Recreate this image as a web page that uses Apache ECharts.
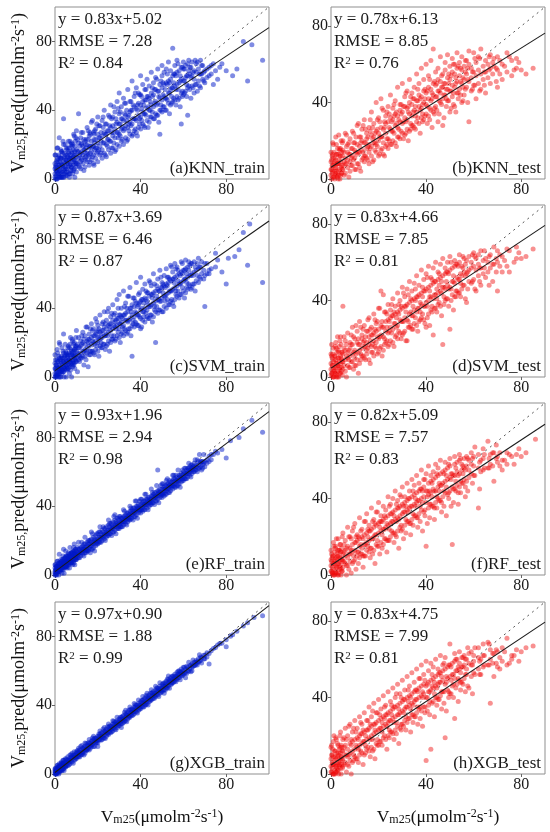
<!DOCTYPE html>
<html>
<head>
<meta charset="utf-8">
<script src="https://cdn.jsdelivr.net/npm/echarts@6/dist/echarts.min.js"></script>
<style>
    html, body { margin: 0; padding: 0; background: #fff; }
    #main { width: 550px; height: 832px; }
</style>
</head>
<body>
<div id="main"></div>
<script>
    // each row: measured Vm25 (x), then the predicted values seen at that x
    var knnTrain = [[0,1,3,6,9,14],[0.5,2,5,8],[1,0,4,7,11,18],[1.5,3,6,10],[2,2,5,8,13,24],[2.5,1,7,12],[3,1,4,9,12,16],[3.5,4,8,15],[4,3,6,10,20,35],[4.5,5,9,13],[5,2,7,11,14],[5.5,6,10,17],[6,4,9,13,18],[6.5,3,11,15],[7,3,8,12,22],[7.5,7,12,20],[8,5,10,15,19],[8.5,8,13,17],[9,6,11,14,25],[9.5,9,14,22],[10,4,9,13,17,28],[11,8,12,16,21,38],[12,6,10,15,24],[12.5,11,16,20],[13,9,14,19,27],[14,7,12,17,22],[14.5,13,18,23],[15,10,15,20,30],[16,8,13,18,25],[16.5,15,19,26],[17,11,16,22,33],[18,9,14,19,27],[18.5,17,21,28],[19,12,18,23,29],[20,10,16,21,26,36],[21,14,19,24,31],[22,12,17,25,34],[23,15,21,27,40],[24,13,20,26,32],[25,17,23,28,37],[26,15,22,30,43],[27,18,25,31,36],[28,16,24,29,39],[29,20,27,33,45],[30,19,26,32,38,50],[31,22,29,35,42],[32,20,28,34,47],[33,24,31,37,44],[34,23,30,36,52],[35,26,33,39,45],[36,25,32,40,57],[37,28,35,42,48],[38,27,34,41,53],[39,30,37,44,50],[40,29,36,43,49,60],[41,32,39,45,55],[42,30,38,46,52],[43,34,41,48,58],[44,33,40,47,54],[45,36,43,50,62],[46,35,42,49,56],[47,38,45,52,59],[48,37,44,51,64],[49,26,40,47,55],[50,39,46,53,60,66],[51,42,48,55,62],[52,40,47,56,64],[53,44,50,57,68],[54,43,52,58,63],[55,45,53,60,76],[56,46,54,61,66],[57,48,55,62,69],[58,47,56,63],[59,32,50,58,65],[60,49,57,64,68],[61,51,59,66],[62,37,53,60,67],[63,52,61,65],[64,54,60,68],[65,50,58,63],[66,55,62,67],[67,57,64],[68,53,61,69],[69,58,66],[70,56,63],[72,60,65],[74,55,67],[77,65],[80,63],[83,60],[88,80],[90,57],[92,78],[97,69],
        [0.25,7,0,14],[0.75,5,10,0],[1.25,18,3,12],[1.75,1,8,14],[2.25,1,10,5],[2.75,17,3,12],[3.25,1,16,8],[3.75,1,22,7],[4.25,12,1,15],[4.75,6,20,3],[5.25,11,4,18],[5.75,9,14,2],[6.25,22,7,16],[6.75,1,12,18],[7.25,5,14,9],[7.75,21,7,16],[8.25,3,20,12],[8.75,5,26,11],[9.25,16,1,19],[9.75,10,24,7],[10.5,16,9,23],[11.5,14,19,7],[12.25,27,12,21],[13.5,5,17,23],[14.25,11,20,15],[15.5,28,14,23],[16.25,10,27,19],[17.5,13,34,19],[18.25,23,8,26],[19.5,18,32,15],[20.5,24,17,31],[21.5,22,27,15],[22.5,36,21,30],[23.5,14,26,32],[24.5,19,28,23],[25.5,36,22,31],[26.5,18,35,27],[27.5,21,42,27],[28.5,32,17,35],[29.5,27,41,24],[30.5,32,25,39],[31.5,30,35,23],[32.5,44,29,38],[33.5,22,34,40],[34.5,28,37,32],[35.5,45,31,40],[36.5,26,43,35],[37.5,29,50,35],[38.5,40,25,43],[39.5,35,49,32],[40.5,41,34,48],[41.5,38,43,31],[42.5,52,37,46],[43.5,30,42,48],[44.5,36,45,40],[45.5,53,39,48],[46.5,35,52,44],[47.5,37,58,43],[48.5,48,33,51],[49.5,43,57,40],[50.5,49,42,56],[51.5,47,52,40],[52.5,61,46,55],[53.5,38,50,56],[54.5,44,53,48],[55.5,61,47,56],[56.5,43,60,52],[57.5,46,67,52],[58.5,57,42,60],[59.5,51,65,48],[60.5,57,50,64],[61.5,55,60,48],[62.5,69,54,63],[63.5,47,59,65],[64.5,53,62],[65.5,69,55],[66.5,51,68],[67.5,61,54],[68.5,66,61],[69.5,62,57],[71,64,59],[73,61,66],[75,63],[76,58],[78,67],[85,64]];
    var knnTest = [[0,2,5,9,14],[0.5,3,7,12],[1,1,7,11,18],[1.5,0,4,9],[2,3,6,10,22],[2.5,2,8,13],[3,0,4,8,13],[3.5,5,10,16],[4,2,9,12,16],[4.5,3,7,14],[5,5,7,15,20],[6,3,8,11,24],[7,6,10,14,18],[8,4,9,13,21],[9,7,12,16,25],[10,5,11,15,19],[11,8,13,18,28],[12,6,14,17,22],[13,10,15,20,26],[14,9,12,19,31],[15,11,16,21,24],[16,8,14,18,27],[17,12,17,23,35],[18,10,19,22,29],[19,14,18,25,40],[20,12,20,24,32],[21,15,22,27,42],[22,13,19,26,36],[23,17,24,29,33],[24,16,21,30,38],[25,18,26,32,44],[26,20,25,31,37],[27,19,28,34,41],[28,22,27,33,48],[29,21,30,36,39],[30,24,29,35,50],[31,23,32,38,43],[32,26,31,37,46],[33,25,34,40,52],[34,28,33,39,45],[35,27,36,42,48],[36,30,35,41,55],[37,29,38,44,50],[38,32,37,43,58],[39,31,40,46,52],[40,34,39,45,60],[41,33,42,48,54],[42,36,41,47,62],[43,35,44,50,68],[44,38,43,49,56],[45,30,46,52,58],[46,40,45,51,64],[47,28,42,48,55],[48,44,50,57,61],[49,41,47,53,65],[50,35,46,52,59],[51,43,49,56,63],[52,38,48,55,60],[53,45,51,58,66],[54,47,54,61],[55,40,50,57,64],[56,44,52,59],[57,48,55,62],[58,30,51,60,67],[59,46,53,58],[60,49,56,66],[61,42,54,61],[62,50,57,64],[63,47,55,68],[64,52,59],[65,45,56,62],[66,53,60],[67,50,58,65],[68,55,61],[70,48,57,64],[72,52,60],[74,56,66],[76,54,62],[78,63,58],[80,57],[85,58],
        [0.25,5,10,0],[0.75,19,4,13],[1.25,1,8,14],[1.75,2,11,6],[2.25,18,4,13],[2.75,1,16,8],[3.25,2,23,8],[3.75,12,0,15],[4.25,6,20,3],[4.75,12,5,19],[5.5,9,14,2],[6.5,23,8,17],[7.5,1,13,19],[8.5,7,16,11],[9.5,24,10,19],[10.5,5,22,14],[11.5,8,29,14],[12.5,19,4,22],[13.5,14,28,11],[14.5,19,12,26],[15.5,17,22,10],[16.5,31,16,25],[17.5,9,21,27],[18.5,15,24,19],[19.5,31,17,26],[20.5,13,30,22],[21.5,16,37,22],[22.5,27,12,30],[23.5,21,35,18],[24.5,27,20,34],[25.5,25,30,18],[26.5,39,24,33],[27.5,17,29,35],[28.5,22,31,26],[29.5,39,25,34],[30.5,21,38,30],[31.5,24,45,30],[32.5,35,20,38],[33.5,29,43,26],[34.5,35,28,42],[35.5,33,38,26],[36.5,47,32,41],[37.5,24,36,42],[38.5,30,39,34],[39.5,47,33,42],[40.5,29,46,38],[41.5,31,52,37],[42.5,42,27,45],[43.5,37,51,34],[44.5,43,36,50],[45.5,41,46,34],[46.5,54,39,48],[47.5,32,44,50],[48.5,38,47,42],[49.5,55,41,50],[50.5,37,54,46],[51.5,39,60,45],[52.5,50,35,53],[53.5,45,59,42],[54.5,51,44,58],[55.5,48,53,41],[56.5,62,47,56],[57.5,40,52,58],[59.5,47,56],[60.5,63,49],[62.5,46,63],[64.5,56,49],[66.5,64,57],[68.5,59,63],[69.5,51,58],[71,62,55],[73,59],[75,64],[77,57],[79,61],[82,55]];
    var svmTrain = [[0,0,2,5,8,13],[0.5,1,4,7],[1,1,3,6,10,16],[1.5,2,5,9],[2,2,4,7,11,20],[2.5,3,6,10],[3,3,5,8,12],[3.5,4,7,11],[4,3,6,9,14,25],[4.5,5,8,12],[5,4,7,10,15],[5.5,6,9,13],[6,5,8,11,17],[6.5,7,10,14],[7,6,9,13,19],[7.5,8,11,16],[8,7,10,14,22],[8.5,9,12,15],[9,8,12,16,20],[9.5,10,13,18],[10,9,11,15,18,27],[11,10,13,17,23],[12,11,14,18,21],[13,12,15,20,26],[14,12,16,19,24],[15,14,17,21,29],[16,13,18,22,25],[17,15,19,23,31],[18,14,20,24,28],[19,16,21,25,34],[20,15,20,23,27,30],[21,18,22,26,36],[22,17,23,27,31],[23,19,24,29,38],[24,18,25,28,33],[25,21,26,30,40],[26,20,27,31,35],[27,22,28,33,42],[28,21,29,32,37],[29,24,30,34,45],[30,23,28,31,36,48],[31,25,32,35,40],[32,24,30,36,50],[33,27,33,37,43],[34,26,32,38,47],[35,28,34,40,52],[36,12,30,36,42],[37,29,35,41,46],[38,31,37,43,55],[39,30,36,42,48],[40,28,34,39,44,58],[41,33,38,45,51],[42,32,40,46,54],[43,35,39,44,49],[44,34,41,47,56],[45,36,42,48,53],[46,35,43,49,60],[47,20,38,44,50],[48,37,45,51,57],[49,39,44,50,62],[50,38,46,52,55],[51,41,47,53,59],[52,40,48,54,63],[53,42,49,55,58],[54,44,50,56,65],[55,43,51,57,61],[56,45,52,58,66],[57,47,53,59,64],[58,46,54,60],[59,48,55,61,67],[60,50,56,62],[61,49,57,63,68],[62,51,58,64],[63,53,59,65],[64,52,60,66],[65,54,61,67],[66,56,62],[67,55,63,69],[68,57,64],[70,41,59,66],[72,62,60],[75,72,64],[80,54],[81,69],[86,74],[88,84],[90,65],[91,89],[97,55],
        [0.25,0,5,10],[0.75,0,7,2],[1.25,14,1,9],[1.75,0,12,5],[2.25,0,19,5],[2.75,9,0,11],[3.25,4,17,2],[3.75,9,3,15],[4.25,6,11,0],[4.75,19,5,13],[5.25,0,9,14],[5.75,4,12,7],[6.25,18,5,13],[6.75,2,17,10],[7.25,4,23,9],[7.75,13,0,15],[8.25,8,21,6],[8.75,13,7,19],[9.25,11,16,5],[9.75,23,9,17],[10.5,3,14,19],[11.5,9,17,12],[12.5,24,11,19],[13.5,7,22,15],[14.5,10,29,15],[15.5,20,6,22],[16.5,15,28,13],[17.5,21,15,27],[18.5,19,24,13],[19.5,32,18,26],[20.5,12,23,28],[21.5,17,25,20],[22.5,32,19,27],[23.5,16,31,24],[24.5,19,38,24],[25.5,29,15,31],[26.5,24,37,22],[27.5,30,24,36],[28.5,28,33,22],[29.5,40,26,34],[30.5,20,31,36],[31.5,26,34,29],[32.5,41,28,36],[33.5,25,40,33],[34.5,28,47,33],[35.5,38,24,40],[36.5,33,46,31],[37.5,38,32,44],[38.5,36,41,30],[39.5,49,35,43],[40.5,29,40,45],[41.5,35,43,38],[42.5,50,37,45],[43.5,34,49,42],[44.5,36,55,41],[45.5,46,32,48],[46.5,41,54,39],[47.5,47,41,53],[48.5,45,50,39],[49.5,58,44,52],[50.5,38,49,54],[51.5,44,52,47],[52.5,58,45,53],[53.5,42,57,50],[54.5,45,64,50],[55.5,55,41,57],[56.5,50,63,48],[57.5,56,50,62],[58.5,54,59,48],[59.5,66,52,60],[60.5,46,57,62],[61.5,52,60,55],[62.5,67,54,62],[63.5,51,66,59],[64.5,54,59],[65.5,64,50],[66.5,59,66],[67.5,64,58],[68.5,60,67],[69.5,62,57],[71,66,60],[73,63],[76,68],[78,61],[84,70]];
    var svmTest = [[0,1,4,7,12],[0.5,2,6,10],[1,0,3,8,15],[1.5,3,5,11],[2,2,5,9,18],[2.5,1,7,13],[3,3,6,10,14],[3.5,4,8,16],[4,2,7,11,21],[4.5,5,9,13],[5,4,8,12,37],[6,3,9,14,19],[7,6,10,13,23],[8,5,11,15,18],[9,8,12,17,26],[10,6,10,14,20],[11,9,13,18,24],[12,7,14,17,29],[13,11,15,20,22],[14,10,16,19,27],[15,12,14,18,24],[16,9,17,21,31],[17,13,16,22,26],[18,11,19,23,33],[19,15,18,24,28],[20,13,20,25,36],[21,16,22,27,45],[22,14,21,26,43],[23,18,24,29,34],[24,16,23,30,38],[25,19,26,31,35],[26,18,25,32,41],[27,21,28,33,37],[28,20,27,34,44],[29,23,30,35,40],[30,22,29,36,47],[31,24,31,37,42],[32,19,30,38,46],[33,26,33,39,50],[34,25,32,40,45],[35,28,35,41,49],[36,27,34,42,53],[37,29,36,43,48],[38,31,38,44,56],[39,30,37,45,51],[40,26,39,46,54],[41,33,40,47,58],[42,35,42,48,52],[43,22,41,49,57],[44,36,43,50,60],[45,38,44,51,55],[46,37,45,52,59],[47,17,47,53,62],[48,40,46,54,57],[49,41,48,55,60],[50,25,47,56,63],[51,43,50,57],[52,42,49,58,61],[53,45,52,59],[54,44,51,60,64],[55,46,53,58],[56,48,55,62],[57,39,54,61],[58,50,56,63],[59,49,57,60],[60,51,58,65],[61,45,56,62],[62,53,59,64],[63,48,57,66],[64,54,61],[65,52,62],[66,55,60],[67,57,64],[68,50,59],[70,45,60,66],[72,55,63],[74,58,67],[75,55],[78,68,62],[80,62],[85,67],
        [0.25,17,2,11],[0.75,0,6,12],[1.25,0,9,4],[1.75,16,2,11],[2.25,0,15,7],[2.75,0,21,6],[3.25,10,0,13],[3.75,5,19,2],[4.25,10,3,17],[4.75,8,13,1],[5.5,21,6,15],[6.5,0,11,17],[7.5,5,14,9],[8.5,22,8,17],[9.5,4,21,13],[10.5,6,27,12],[11.5,17,2,20],[12.5,12,26,9],[13.5,18,11,25],[14.5,16,21,9],[15.5,30,15,24],[16.5,7,19,25],[17.5,13,22,17],[18.5,30,16,25],[19.5,12,29,21],[20.5,15,36,21],[21.5,26,11,29],[22.5,20,34,17],[23.5,26,19,33],[24.5,24,29,17],[25.5,38,23,32],[26.5,16,28,34],[27.5,22,31,26],[28.5,38,24,33],[29.5,20,37,29],[30.5,23,44,29],[31.5,34,19,37],[32.5,29,43,26],[33.5,34,27,41],[34.5,32,37,25],[35.5,46,31,40],[36.5,24,36,42],[37.5,30,39,34],[38.5,47,33,42],[39.5,28,45,37],[40.5,31,52,37],[41.5,42,27,45],[42.5,37,51,34],[43.5,43,36,50],[44.5,41,46,34],[45.5,54,39,48],[46.5,32,44,50],[47.5,38,47,42],[48.5,55,41,50],[49.5,37,54,46],[50.5,40,60,46],[51.5,50,35,53],[52.5,45,59,42],[53.5,51,44,58],[54.5,49,54,42],[55.5,63,48,57],[56.5,41,53,59],[57.5,46,55],[59.5,64,50],[60.5,46,63],[62.5,57,50],[64.5,66,57],[66.5,63,48],[68.5,68,59],[69.5,55,62],[71,64,58],[73,61],[75,66],[77,60],[79,65],[82,63]];
    var rfTrain = [[0,0,1,2,4,6],[0.5,1,2,3,5],[1,1,2,3,5,8],[1.5,2,3,4,6],[2,2,3,5,7,12],[2.5,3,4,5,7],[3,3,4,6,8],[3.5,4,5,6,9],[4,4,5,7,9,15],[4.5,5,6,7,10],[5,5,6,8,10,14],[5.5,5,7,8,11],[6,6,7,9,11],[6.5,6,8,9,12],[7,7,8,10,12,16],[7.5,7,9,10,13],[8,8,9,11,13],[8.5,8,10,11,14],[9,9,10,12,14,18],[9.5,9,11,12,15],[10,9,11,12,14],[11,10,12,13,15,19],[12,11,13,14,16],[13,12,14,15,17],[14,13,15,16,18,22],[15,14,15,17,19],[16,15,16,18,20],[17,15,17,19,21,25],[18,16,18,19,22],[19,17,19,20,23],[20,18,20,21,24],[21,19,21,22,25,28],[22,20,22,23,26],[23,21,23,24,27],[24,22,24,25,28],[25,23,25,26,29,32],[26,24,26,27,30],[27,25,27,28,31],[28,26,28,29,32,35],[29,27,29,30,33],[30,27,29,30,32,34],[31,28,30,31,33],[32,29,31,32,34,38],[33,30,32,33,35],[34,31,33,34,36],[35,32,34,35,37,40],[36,33,35,36,38],[37,34,36,37,39],[38,35,37,38,40,43],[39,36,38,39,41],[40,36,38,39,41,44],[41,37,39,40,42],[42,38,40,41,43,47],[43,39,41,42,44],[44,40,42,43,45],[45,41,43,44,46,50],[46,42,44,45,47],[47,43,45,46,48],[48,44,46,47,49,61],[49,45,47,48,50],[50,45,47,48,50,53],[51,46,48,49,51],[52,47,49,50,52,55],[53,48,50,51,53],[54,49,51,52,54],[55,50,52,53,55,58],[56,51,53,54,56],[57,52,54,55,57],[58,53,55,56,58],[59,54,56,57,59],[60,55,57,58,60],[61,56,58,59,62],[62,57,59,60,62],[63,58,60,61,63],[64,59,61,62,64],[65,60,62,63,65],[66,61,63,64],[67,62,64,66],[68,63,65,66],[69,62,64,66],[70,63,66],[71,67,65],[72,66,69],[74,70],[76,71],[80,68],[82,78],[86,80],[88,85],[92,90],[97,83],
        [0.25,3,0,6],[0.75,3,5,0],[1.25,8,2,5],[1.75,0,4,7],[2.25,2,5,3],[2.75,9,3,7],[3.25,1,8,5],[3.75,3,11,5],[4.25,7,1,8],[4.75,5,10,4],[5.25,8,5,11],[5.75,7,9,4],[6.25,13,7,10],[6.75,4,8,11],[7.25,7,10,8],[7.75,13,7,11],[8.25,6,13,10],[8.75,7,16,10],[9.25,12,6,13],[9.75,10,15,9],[10.5,13,10,16],[11.5,13,15,10],[12.5,19,13,16],[13.5,11,15,18],[14.5,13,16,14],[15.5,20,14,18],[16.5,13,20,17],[17.5,15,24,18],[18.5,20,14,21],[19.5,19,24,18],[20.5,22,19,25],[21.5,22,24,19],[22.5,28,22,25],[23.5,20,24,27],[24.5,23,26,24],[25.5,30,24,28],[26.5,23,30,27],[27.5,25,34,28],[28.5,30,24,31],[29.5,28,33,27],[30.5,31,28,34],[31.5,31,33,28],[32.5,37,31,34],[33.5,29,33,36],[34.5,32,35,33],[35.5,39,33,37],[36.5,32,39,36],[37.5,34,43,37],[38.5,39,33,40],[39.5,38,43,37],[40.5,41,38,44],[41.5,41,43,38],[42.5,47,41,44],[43.5,38,42,45],[44.5,41,44,42],[45.5,48,42,46],[46.5,41,48,45],[47.5,43,52,46],[48.5,48,42,49],[49.5,47,52,46],[50.5,50,47,53],[51.5,50,52,47],[52.5,56,50,53],[53.5,48,52,55],[54.5,51,54,52],[55.5,58,52,56],[56.5,51,58,55],[57.5,52,61,55],[58.5,57,51,58],[59.5,56,61,55],[60.5,59,56,62],[61.5,59,61,56],[62.5,65,59,62],[63.5,57,61,64],[64.5,60,63],[65.5,67,61],[66.5,60,67],[67.5,62,70],[68.5,66,61],[69.5,65,70],[73,70,67],[75,72],[78,73]];
    var rfTest = [[0,2,5,8,13],[0.5,1,4,9],[1,3,6,10,17],[1.5,0,7,12],[2,2,5,9,15],[2.5,4,8,11],[3,1,6,10,19],[3.5,3,7,13],[4,5,9,12,16],[4.5,2,8,14],[5,4,7,11,22],[6,6,10,13,18],[7,5,9,15,25],[8,7,11,14,20],[9,6,12,16,23],[10,8,13,17,27],[11,10,12,18,21],[12,9,15,19,30],[13,11,14,20,24],[14,10,16,21,28],[15,13,17,22,32],[16,12,18,23,26],[17,14,19,24,35],[18,13,20,25,29],[19,16,21,26,33],[20,15,22,27,38],[21,17,23,28,31],[22,16,24,29,36],[23,19,25,30,34],[24,18,26,31,41],[25,20,27,32,37],[26,22,28,33,40],[27,21,29,34,44],[28,23,30,35,39],[29,25,31,36,42],[30,24,32,37,46],[31,26,33,38,41],[32,28,34,39,48],[33,27,35,40,44],[34,29,36,41,50],[35,31,37,42,47],[36,30,38,43,52],[37,32,39,44,48],[38,34,40,45,55],[39,33,41,46,50],[40,15,38,44,53],[41,35,42,48,57],[42,37,43,49,52],[43,36,45,50,54],[44,38,44,51,58],[45,40,46,52,56],[46,39,47,53,60],[47,41,48,54],[48,43,49,55,59],[49,42,50,56],[50,44,51,57,61],[51,16,46,53],[52,45,52,58,62],[53,47,54,59],[54,46,53,60,63],[55,48,55,58],[56,50,56,61],[57,49,57,62],[58,51,55,60],[59,53,58,64],[60,52,57,62],[62,35,56,63],[63,54,60],[64,55,61,66],[66,56,70],[67,58,63],[68,57,64],[70,59,62],[72,60,55],[74,58,64],[76,62],[78,63],[80,62],[86,71],
        [0.25,11,2,7],[0.75,0,10,1],[1.25,15,0,6],[1.75,14,1,8],[2.25,4,19,1],[2.75,10,0,13],[3.25,6,13,0],[3.75,9,4,16],[4.25,0,12,3],[4.75,20,8,2],[5.5,16,7,12],[6.5,0,14,5],[7.5,20,3,11],[8.5,19,1,13],[9.5,10,25,7],[10.5,17,3,20],[11.5,12,20,6],[12.5,16,11,23],[13.5,4,19,10],[14.5,28,16,10],[15.5,24,15,20],[16.5,9,23,14],[17.5,28,11,19],[18.5,27,6,21],[19.5,18,33,15],[20.5,25,11,28],[21.5,21,28,14],[22.5,24,19,31],[23.5,12,27,18],[24.5,36,24,18],[25.5,32,23,28],[26.5,17,31,22],[27.5,37,20,28],[28.5,35,14,29],[29.5,26,41,23],[30.5,33,19,36],[31.5,29,36,22],[32.5,33,28,40],[33.5,21,36,27],[34.5,44,32,26],[35.5,40,31,36],[36.5,25,39,30],[37.5,45,28,36],[38.5,44,23,38],[39.5,34,50,31],[40.5,41,27,44],[41.5,37,44,30],[42.5,41,36,48],[43.5,29,44,35],[44.5,53,41,35],[45.5,48,39,44],[46.5,33,47,38],[47.5,53,36,44],[48.5,52,31,46],[49.5,43,58,40],[50.5,50,36,53],[51.5,45,52,38],[52.5,49,44,56],[53.5,37,52,43],[54.5,61,49,43],[55.5,57,48,53],[56.5,41,55,46],[57.5,61,44],[59.5,61,48],[60.5,52,67],[62.5,59,45],[64.5,56,63],[66.5,61,56],[68.5,49,64],[69.5,68,61],[71,64,57],[73,60],[75,63],[77,58],[79,66],[82,64]];
    var xgbTrain = [[0,0,1,2,3],[0.5,0,1,3],[1,1,2,3,5],[1.5,1,2,4],[2,1,3,4,6],[2.5,2,3,5],[3,2,4,5,7],[3.5,3,4,6],[4,3,5,6,8],[5,4,6,7,9],[6,5,7,8,10],[7,6,8,9,11],[8,7,9,10,12],[9,8,10,11,13],[10,9,10,12,13],[11,10,11,13,15],[12,11,12,14,16],[13,12,13,15],[14,12,14,16,18],[15,14,15,17],[16,14,16,18,20],[17,16,17,19],[18,16,18,20,22],[19,18,19,21],[20,16,18,20,22],[21,20,21,23,25],[22,20,22,24],[23,21,23,25,27],[24,22,24,26],[25,23,25,27,29],[26,24,26,28],[27,25,27,29,31],[28,26,28,30],[29,27,29,31,33],[30,28,30,32],[31,27,29,31,33],[32,30,32,34],[33,31,33,35,37],[34,32,34,36],[35,33,35,37,39],[36,34,36,38],[37,35,37,39,41],[38,36,38,40],[39,37,39,41,43],[40,38,40,42],[41,39,41,43,45],[42,40,42,44],[43,41,43,45,47],[44,42,44,46],[45,43,45,47,49],[46,44,46,48],[47,45,47,49,51],[48,46,48,50],[49,47,49,51,53],[50,48,50,52],[51,47,49,51,53],[52,50,52,54],[53,51,53,55,57],[54,52,54,56],[55,53,55,57],[56,54,56,58],[57,55,57,59],[58,56,58,60],[59,57,59,61],[60,58,60,62],[61,56,59,61],[62,60,62],[63,61,63],[64,60,62,64],[65,63,65],[66,64,66],[67,65,67],[68,66,68],[70,67,69],[72,64,70],[74,73],[76,75],[78,76],[80,74,78],[83,81],[85,83],[90,88],[93,91],[97,92],
        [0.25,1.6,0,3.3],[0.75,1.3,2.6,0],[1.25,5.1,1.3,3.6],[1.75,0,2.9,4.4],[2.25,1.6,3.9,2.6],[2.75,6.1,2.6,4.8],[3.25,1.9,6.1,4.1],[3.75,2.7,8,4.2],[4.25,5.8,2,6.5],[4.75,4.7,8.3,4],[5.5,6.7,5,8.4],[6.5,6.9,8.2,5.2],[7.5,11.2,7.4,9.7],[8.5,6.3,9.4,10.9],[9.5,8.6,10.9,9.6],[10.5,13.6,10.1,12.3],[11.5,9.9,14.1,12.1],[12.5,11.2,16.5,12.7],[13.5,14.8,11,15.5],[14.5,14.2,17.8,13.5],[15.5,16.4,14.7,18.1],[16.5,16.6,17.9,14.9],[17.5,20.9,17.1,19.4],[18.5,16,19.1,20.6],[19.5,18.3,20.6,19.3],[20.5,23.3,19.8,22],[21.5,19.6,23.8,21.8],[22.5,20.9,26.2,22.4],[23.5,24.5,20.7,25.2],[24.5,23.9,27.5,23.2],[25.5,26.1,24.4,27.8],[26.5,26.3,27.6,24.6],[27.5,30.6,26.8,29.1],[28.5,25.7,28.8,30.3],[29.5,28,30.3,29],[30.5,33,29.5,31.7],[31.5,29.3,33.5,31.5],[32.5,30.6,35.9,32.1],[33.5,34.2,30.4,34.9],[34.5,33.6,37.2,32.9],[35.5,35.8,34.1,37.5],[36.5,36,37.3,34.3],[37.5,40.3,36.5,38.8],[38.5,35.4,38.5,40],[39.5,37.7,40,38.7],[40.5,42.7,39.2,41.4],[41.5,39,43.2,41.2],[42.5,40.3,45.6,41.8],[43.5,43.9,40.1,44.6],[44.5,43.3,46.9,42.6],[45.5,45.5,43.8,47.2],[46.5,45.7,47,44],[47.5,50,46.2,48.5],[48.5,45.1,48.2,49.7],[49.5,47.4,49.7,48.4],[50.5,52.4,48.9,51.1],[51.5,48.7,52.9,50.9],[52.5,50,55.3,51.5],[53.5,53.6,49.8,54.3],[54.5,53,56.6,52.3],[55.5,55.2,53.5,56.9],[56.5,55.4,56.7,53.7],[57.5,59.7,55.9,58.2],[58.5,54.8,57.9,59.4],[59.5,57.1,59.4,58.1],[60.5,62.1,58.6],[61.5,58.4,62.6],[62.5,59.7,65],[63.5,63.3,59.5],[64.5,62.7,66.3],[65.5,64.9,63.2],[66.5,65.1,63.4],[67.5,69.4,65.6],[68.5,64.5,67.6],[69.5,66.8,69.1],[71,70.5,68],[73,71.7],[75,73.5],[77,75.8],[82,80.1],[88,86]];
    var xgbTest = [[0,1,4,8,14],[0.5,3,6,10],[1,0,5,9,17],[1.5,2,7,12],[2,1,4,8,19],[2.5,3,6,11],[3,2,5,10,15],[3.5,4,8,13],[4,3,7,11,22],[4.5,5,9,14],[5,4,8,12,18],[6,6,10,15,24],[7,5,9,13,20],[8,7,11,16,26],[9,6,12,17,22],[10,9,13,18,28],[11,8,14,19,24],[12,10,15,20,30],[13,11,16,21,26],[14,10,17,22,32],[15,13,18,23,28],[16,12,19,24,35],[17,14,20,25,30],[18,13,21,26,37],[19,16,22,27,32],[20,15,23,28,39],[21,17,24,29,34],[22,19,25,30,41],[23,18,26,31,36],[24,20,27,32,43],[25,22,28,33,38],[26,21,29,34,45],[27,23,30,35,40],[28,25,31,36,47],[29,24,32,37,42],[30,26,33,38,49],[31,28,34,39,44],[32,27,35,40,51],[33,29,36,41,46],[34,31,37,42,53],[35,30,38,43,48],[36,32,39,44,55],[37,34,40,45,50],[38,33,41,46,57],[39,35,42,47,52],[40,7,40,46,59],[41,36,43,48,54],[42,13,44,49,58],[43,38,45,50,56],[44,40,46,51,60],[45,39,47,52,55],[46,41,48,53,62],[47,43,49,54,57],[48,19,47,55,61],[49,44,50,56],[50,42,51,57,68],[51,46,52,58],[52,29,50,59,63],[53,47,54,60],[54,49,55,58,64],[55,48,56,61],[56,50,57,62],[57,52,55,60],[58,45,58,63],[59,51,57,64],[60,53,59,62],[62,55,61,66],[63,52,60],[64,56,62,68],[66,57,69],[67,37,60,65],[68,58,63],[70,56,64],[72,59,66],[74,57,71],[76,62,60],[78,65],[80,64],[85,67],
        [0.25,15,1,10],[0.75,0,13,5],[1.25,0,20,5],[1.75,9,0,12],[2.25,4,18,1],[2.75,9,2,16],[3.25,6,11,0],[3.75,20,5,14],[4.25,0,9,15],[4.75,3,12,7],[5.5,19,5,14],[6.5,1,18,10],[7.5,4,25,10],[8.5,15,0,18],[9.5,10,24,7],[10.5,15,8,22],[11.5,13,18,6],[12.5,27,12,21],[13.5,5,17,23],[14.5,11,20,15],[15.5,28,14,23],[16.5,9,26,18],[17.5,12,33,18],[18.5,23,8,26],[19.5,18,32,15],[20.5,24,17,31],[21.5,22,27,15],[22.5,35,20,29],[23.5,13,25,31],[24.5,19,28,23],[25.5,36,22,31],[26.5,18,35,27],[27.5,21,42,27],[28.5,31,16,34],[29.5,26,40,23],[30.5,32,25,39],[31.5,30,35,23],[32.5,44,29,38],[33.5,22,34,40],[34.5,27,36,31],[35.5,44,30,39],[36.5,26,43,35],[37.5,29,50,35],[38.5,40,25,43],[39.5,35,49,32],[40.5,40,33,47],[41.5,38,43,31],[42.5,52,37,46],[43.5,30,42,48],[44.5,36,45,40],[45.5,53,39,48],[46.5,34,51,43],[47.5,37,58,43],[48.5,48,33,51],[49.5,43,57,40],[50.5,49,42,56],[51.5,47,52,40],[52.5,60,45,54],[53.5,38,50,56],[54.5,44,53,48],[55.5,61,47,56],[56.5,43,60,52],[57.5,46,66],[59.5,57,42],[60.5,52,66],[62.5,59,52],[64.5,57,62],[66.5,68,57],[68.5,51,63],[69.5,58,65],[71,61,55],[73,64],[75,58],[77,62],[79,59],[82,66]];

    var panelRows = [knnTrain, knnTest, svmTrain, svmTest, rfTrain, rfTest, xgbTrain, xgbTest];
    var panelNames = ['(a)KNN_train', '(b)KNN_test', '(c)SVM_train', '(d)SVM_test', '(e)RF_train', '(f)RF_test', '(g)XGB_train', '(h)XGB_test'];
    var fitSlope = [0.83, 0.78, 0.87, 0.83, 0.93, 0.82, 0.97, 0.83];
    var fitIntercept = [5.02, 6.13, 3.69, 4.66, 1.96, 5.09, 0.90, 4.75];
    var rmse = ['7.28', '8.85', '6.46', '7.85', '2.94', '7.57', '1.88', '7.99'];
    var r2 = ['0.84', '0.76', '0.87', '0.81', '0.98', '0.83', '0.99', '0.81'];
    var axisMax = [100, 90];     // train column, test column
    var tickValues = [0, 40, 80];

    var font = 'Liberation Serif';
    var colLeft = [55, 331], colWidth = 214;
    var rowTop = [7, 205, 403, 602], rowHeight = 172;

    function makeAxis(i, max) {
        return {
            gridIndex: i, type: 'value', min: 0, max: max, interval: 40,
            splitLine: { show: false },
            axisLine: { show: false },
            axisTick: { show: true, length: 3, customValues: tickValues.slice(), lineStyle: { color: '#666' } },
            axisLabel: { customValues: tickValues.slice(), fontFamily: font, fontSize: 16, color: '#1a1a1a', margin: 3 }
        };
    }

    function nameText(x, y, text, size, rotation) {
        return {
            type: 'text', x: x, y: y, rotation: rotation,
            style: {
                text: text, fontFamily: font, fontSize: size, fill: '#111', align: 'center', verticalAlign: 'middle',
                rich: {
                    sub: { fontFamily: font, fontSize: 12, fill: '#111', verticalAlign: 'bottom' },
                    sup: { fontFamily: font, fontSize: 12, fill: '#111', verticalAlign: 'top' }
                }
            }
        };
    }

    function plainText(x, y, text, align) {
        return {
            type: 'text', x: x, y: y,
            style: { text: text, fontFamily: font, fontSize: 17, fill: '#1a1a1a', align: align, verticalAlign: 'middle' }
        };
    }

    var grids = [], xAxes = [], yAxes = [], series = [], graphics = [];

    for (var i = 0; i < panelRows.length; i++) {
        var col = i % 2, row = Math.floor(i / 2);
        var max = axisMax[col];
        var pLeft = colLeft[col], pTop = rowTop[row];   // not "top": that name is window.top
        var isTrain = col === 0;

        grids.push({
            left: pLeft, top: pTop, width: colWidth, height: rowHeight,
            show: true, borderColor: '#8f8f8f', borderWidth: 1, outerBoundsMode: 'none'
        });
        xAxes.push(makeAxis(i, max));
        yAxes.push(makeAxis(i, max));

        var pts = [];
        panelRows[i].forEach(function (r) {
            for (var k = 1; k < r.length; k++) pts.push([r[0], r[k]]);
        });

        // 1:1 line
        series.push({
            type: 'line', xAxisIndex: i, yAxisIndex: i, symbol: 'none', z: 1,
            data: [[0, 0], [max, max]],
            lineStyle: { color: '#555', width: 1, type: [2, 4] }
        });
        series.push({
            type: 'scatter', xAxisIndex: i, yAxisIndex: i, symbolSize: 5, z: 2, data: pts,
            itemStyle: { color: isTrain ? '#0018c8' : '#f00808', opacity: isTrain ? 0.5 : 0.45 }
        });
        // fitted line
        series.push({
            type: 'line', xAxisIndex: i, yAxisIndex: i, symbol: 'none', z: 3,
            data: [[0, fitIntercept[i]], [max, fitSlope[i] * max + fitIntercept[i]]],
            lineStyle: { color: '#1a1a1a', width: 1.1 }
        });

        graphics.push(plainText(pLeft + 3, pTop + 13, 'y = ' + fitSlope[i].toFixed(2) + 'x+' + fitIntercept[i].toFixed(2), 'left'));
        graphics.push(plainText(pLeft + 3, pTop + 35, 'RMSE = ' + rmse[i], 'left'));
        graphics.push({
            type: 'text', x: pLeft + 3, y: pTop + 57,
            style: {
                text: 'R{sup|2} = ' + r2[i], fontFamily: font, fontSize: 17, fill: '#1a1a1a', align: 'left', verticalAlign: 'middle',
                rich: { sup: { fontFamily: font, fontSize: 11, fill: '#1a1a1a', verticalAlign: 'top' } }
            }
        });
        graphics.push(plainText(pLeft + colWidth - 4, pTop + rowHeight - 10, panelNames[i], 'right'));

        if (isTrain) {
            graphics.push(nameText(19, pTop + rowHeight / 2, 'V{sub|m25,}pred(μmolm{sup|-2}s{sup|-1})', 18, Math.PI / 2));
        }
        if (row === 3) {
            graphics.push(nameText(pLeft + colWidth / 2, 817, 'V{sub|m25}(μmolm{sup|-2}s{sup|-1})', 17.5, 0));
        }
    }

    var chart = echarts.init(document.getElementById('main'));
    chart.setOption({
        animation: false,
        backgroundColor: '#fff',
        grid: grids,
        xAxis: xAxes,
        yAxis: yAxes,
        series: series,
        graphic: graphics
    });
</script>
</body>
</html>
